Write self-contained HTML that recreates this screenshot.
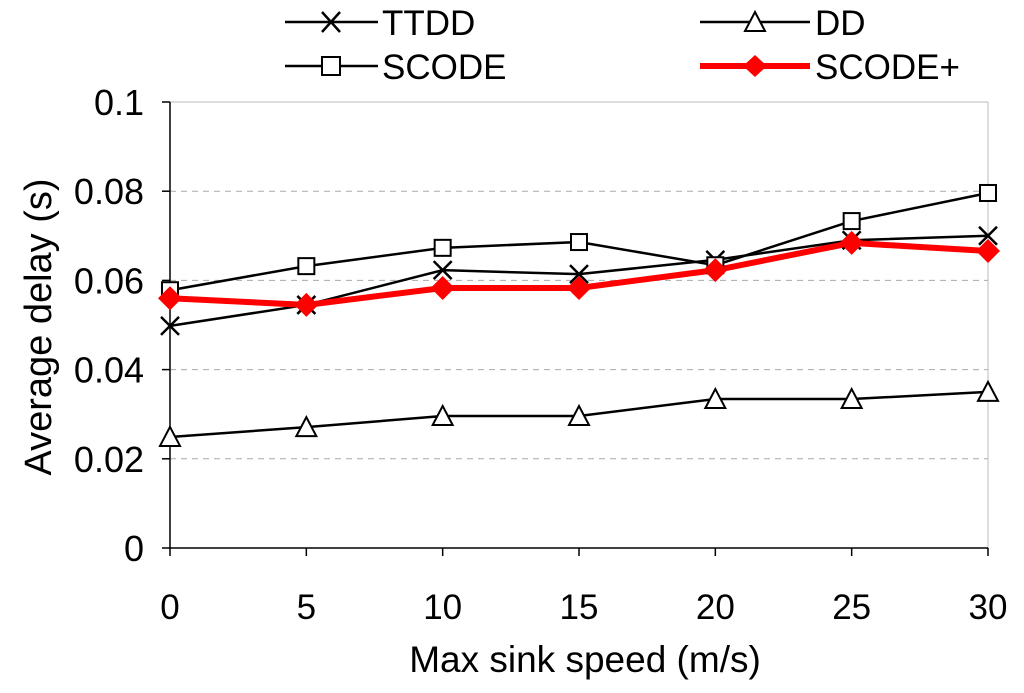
<!DOCTYPE html>
<html><head><meta charset="utf-8"><style>
body{margin:0;background:#fff}
svg{display:block;font-family:"Liberation Sans",Arial,sans-serif}
</style></head><body>
<svg id="chart" width="1024" height="693">
<g id="grid"></g><g id="axes"></g><g id="series"></g>
<g id="legend">
<g><line x1="285" y1="22" x2="378" y2="22" stroke="#000" stroke-width="2.5"/><path d="M322 12 L340 32 M340 12 L322 32" stroke="#000" stroke-width="2.5"/><text x="382" y="35" font-size="35">TTDD</text></g>
<g><line x1="285" y1="66" x2="378" y2="66" stroke="#000" stroke-width="2.5"/><rect x="322" y="57" width="18" height="18" fill="#fff" stroke="#000" stroke-width="2"/><text x="382" y="79" font-size="35">SCODE</text></g>
<g><line x1="700" y1="22" x2="810" y2="22" stroke="#000" stroke-width="2.5"/><path d="M755 12 L765 31 L745 31 Z" fill="#fff" stroke="#000" stroke-width="2"/><text x="815" y="35" font-size="35">DD</text></g>
<g><line x1="700" y1="66" x2="810" y2="66" stroke="#f00" stroke-width="6"/><path d="M755 55 L767 66 L755 77 L743 66 Z" fill="#f00"/><text x="815" y="79" font-size="35">SCODE+</text></g>
</g>
</svg>
<script>
const categories=[0,5,10,15,20,25,30];
const ttdd=[0.0498,0.0545,0.0623,0.0614,0.0646,0.069,0.070];
const scode=[0.0578,0.0632,0.0673,0.0686,0.0634,0.0733,0.0796];
const dd=[0.0249,0.0271,0.0296,0.0296,0.0334,0.0334,0.035];
const scodePlus=[0.056,0.0545,0.0583,0.0583,0.0623,0.0684,0.0666];
const yTicks=[0,0.02,0.04,0.06,0.08,0.1];
const yTickLabels=["0","0.02","0.04","0.06","0.08","0.1"];
const NS="http://www.w3.org/2000/svg";
const X=v=>170+(v-0)/30*818;
const Y=v=>548-v/0.1*446;
function mk(p,t,a){const e=document.createElementNS(NS,t);for(const k in a)e.setAttribute(k,a[k]);p.appendChild(e);return e;}
const grid=document.getElementById('grid'),axes=document.getElementById('axes'),ser=document.getElementById('series');
yTicks.forEach((v,i)=>{
 if(v>0){const g=mk(grid,'line',{x1:170,x2:988,y1:Y(v),y2:Y(v),stroke:'#aaa','stroke-width':1,'stroke-dasharray':'6,5'});
 
 }
 const t=mk(axes,'line',{x1:162,x2:170,y1:Y(v),y2:Y(v),stroke:'#000','stroke-width':1.5});
 const l=mk(axes,'text',{x:144,y:Y(v)+13,'font-size':36,'text-anchor':'end'});l.textContent=yTickLabels[i];
 
 
});
mk(axes,'line',{x1:988,x2:988,y1:102,y2:548,stroke:'#bbb','stroke-width':1});
mk(axes,'line',{x1:170,x2:988,y1:102,y2:102,stroke:'#bbb','stroke-width':1});
mk(axes,'line',{x1:170,x2:170,y1:102,y2:548,stroke:'#000','stroke-width':1.5});
mk(axes,'line',{x1:170,x2:988,y1:548,y2:548,stroke:'#000','stroke-width':1.5});
categories.forEach(c=>{
 mk(axes,'line',{x1:X(c),x2:X(c),y1:548,y2:556,stroke:'#000','stroke-width':1.5});
 const l=mk(axes,'text',{x:X(c),y:619,'font-size':35,'text-anchor':'middle'});l.textContent=c;
 
 
});
const xt=mk(axes,'text',{x:585,y:672,'font-size':37,'text-anchor':'middle'});xt.textContent='Max sink speed (m/s)';


const yt=mk(axes,'text',{x:0,y:0,'font-size':38,'text-anchor':'middle',transform:'translate(51,327) rotate(-90)'});yt.textContent='Average delay (s)';


function line(vals,color,w,name){
 const p=mk(ser,'polyline',{points:vals.map((v,i)=>X(categories[i])+','+Y(v)).join(' '),fill:'none',stroke:color,'stroke-width':w});
 
 
}
line(ttdd,'#000',2.5,'ttdd');line(scode,'#000',2.5,'scode');line(dd,'#000',2.5,'dd');line(scodePlus,'#f00',6,'scode-plus');
ttdd.forEach((v,i)=>{const x=X(categories[i]),y=Y(v);
 const m=mk(ser,'path',{d:`M${x-9} ${y-9} L${x+9} ${y+9} M${x+9} ${y-9} L${x-9} ${y+9}`,stroke:'#000','stroke-width':2.5});
 
 });
scode.forEach((v,i)=>{const x=X(categories[i]),y=Y(v);
 const m=mk(ser,'rect',{x:x-8,y:y-8,width:16,height:16,fill:'#fff',stroke:'#000','stroke-width':2});
 
 });
dd.forEach((v,i)=>{const x=X(categories[i]),y=Y(v);
 const m=mk(ser,'path',{d:`M${x} ${y-10} L${x+10} ${y+9} L${x-10} ${y+9} Z`,fill:'#fff',stroke:'#000','stroke-width':2});
 
 });
scodePlus.forEach((v,i)=>{const x=X(categories[i]),y=Y(v);
 const m=mk(ser,'path',{d:`M${x} ${y-12} L${x+12} ${y} L${x} ${y+12} L${x-12} ${y} Z`,fill:'#f00'});
 
 });
</script>
</body></html>
